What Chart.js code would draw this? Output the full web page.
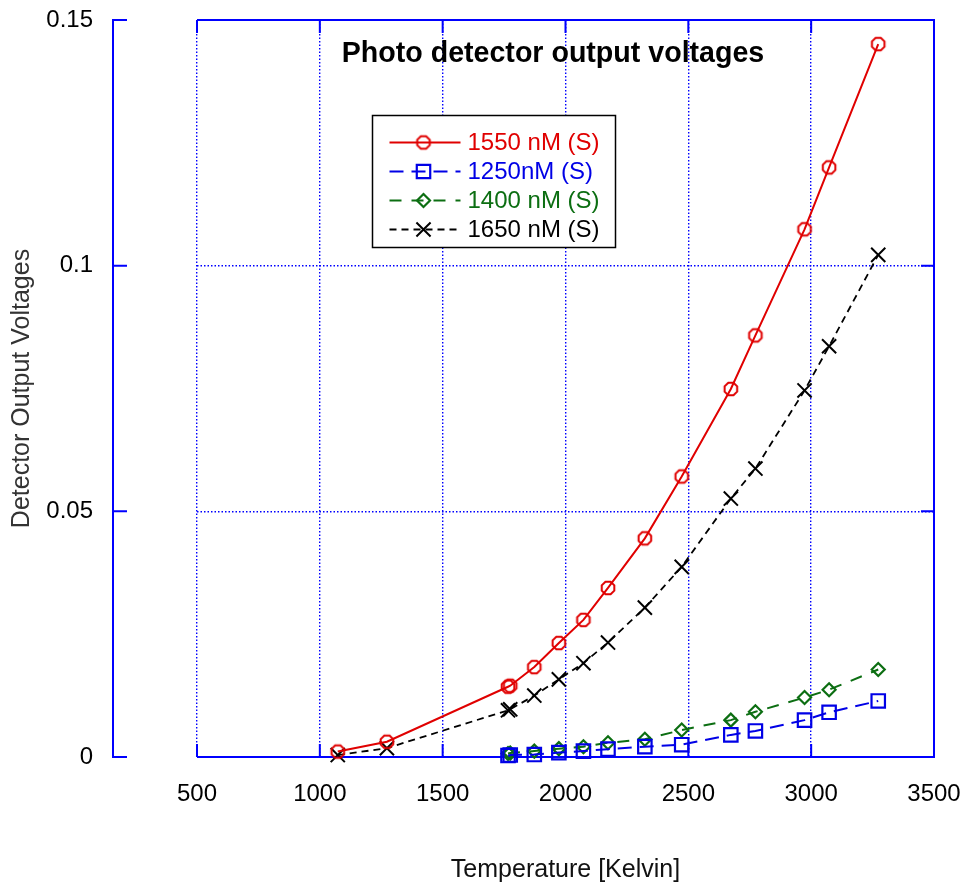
<!DOCTYPE html>
<html>
<head>
<meta charset="utf-8">
<title>Photo detector output voltages</title>
<script src="https://cdn.jsdelivr.net/npm/chart.js@4.4.1/dist/chart.umd.min.js"></script>
<style>
  html, body { margin: 0; padding: 0; background: #fff; }
  #wrap { width: 963px; height: 885px; }
</style>
</head>
<body>
<div id="wrap"><canvas id="chart" width="963" height="885"></canvas></div>
<script>
// temperaturas (Kelvin)
const tempsAll = [1073, 1273, 1766, 1775, 1873, 1973, 2073, 2173, 2323, 2473, 2673, 2773, 2973, 3073, 3273];
const tempsHigh = [1766, 1775, 1873, 1973, 2073, 2173, 2323, 2473, 2673, 2773, 2973, 3073, 3273];

// voltajes de salida del detector
const v1550 = [0.0011, 0.0031, 0.0143, 0.0145, 0.0183, 0.0232, 0.0279, 0.0344, 0.0445, 0.0571, 0.0749, 0.0858, 0.1074, 0.1200, 0.1451];
const v1250 = [0.0003, 0.0004, 0.0005, 0.0009, 0.0012, 0.0016, 0.0021, 0.0025, 0.0045, 0.0053, 0.0075, 0.0091, 0.0114];
const v1400 = [0.0007, 0.0008, 0.0012, 0.0017, 0.0021, 0.0029, 0.0036, 0.0055, 0.0075, 0.0092, 0.0121, 0.0137, 0.0178];
const v1650 = [0.0004, 0.0018, 0.0095, 0.0097, 0.0125, 0.0158, 0.0191, 0.0233, 0.0304, 0.0387, 0.0526, 0.0587, 0.0746, 0.0836, 0.1022];

const seriesNames = ['1550 nM (S)', '1250nM (S)', '1400 nM (S)', '1650 nM (S)'];
const xTicks = [500, 1000, 1500, 2000, 2500, 3000, 3500];
const yTicks = [0, 0.05, 0.1, 0.15];

const FONT = '"Liberation Sans", Arial, Helvetica, sans-serif';
const AXIS_BLUE = '#0000ff';

function toPoints(xs, ys) {
    return xs.map((x, i) => ({ x: x, y: ys[i] }));
}

// octagono hueco para la serie roja
function makeOctagon(color) {
    const c = document.createElement('canvas');
    c.width = 18; c.height = 18;
    const g = c.getContext('2d');
    g.strokeStyle = color;
    g.lineWidth = 2;
    g.beginPath();
    for (let i = 0; i < 8; i++) {
        const a = Math.PI / 8 + i * Math.PI / 4;
        const px = 9 + 6.8 * Math.cos(a);
        const py = 9 + 6.8 * Math.sin(a);
        if (i === 0) g.moveTo(px, py); else g.lineTo(px, py);
    }
    g.closePath();
    g.stroke();
    return c;
}

const redOct = makeOctagon('#e00000');

const datasets = [
    {
        label: seriesNames[0],
        data: toPoints(tempsAll, v1550),
        borderColor: '#e00000',
        borderWidth: 2,
        pointStyle: redOct,
        pointRadius: 7,
        pointBorderColor: '#e00000',
        pointBackgroundColor: 'rgba(0,0,0,0)'
    },
    {
        label: seriesNames[1],
        data: toPoints(tempsHigh, v1250),
        borderColor: '#0000e6',
        borderWidth: 2,
        borderDash: [14, 8],
        pointStyle: 'rect',
        pointRadius: 9.5,
        pointBorderWidth: 2.2,
        pointBorderColor: '#0000e6',
        pointBackgroundColor: 'rgba(0,0,0,0)'
    },
    {
        label: seriesNames[2],
        data: toPoints(tempsHigh, v1400),
        borderColor: '#0c6e12',
        borderWidth: 2,
        borderDash: [12, 10],
        pointStyle: 'rectRot',
        pointRadius: 6.5,
        pointBorderWidth: 2.2,
        pointBorderColor: '#0c6e12',
        pointBackgroundColor: 'rgba(0,0,0,0)'
    },
    {
        label: seriesNames[3],
        data: toPoints(tempsAll, v1650),
        borderColor: '#000000',
        borderWidth: 1.8,
        borderDash: [7, 5],
        pointStyle: 'crossRot',
        pointRadius: 10,
        pointBorderWidth: 2,
        pointBorderColor: '#000000',
        pointBackgroundColor: 'rgba(0,0,0,0)'
    }
];

// marco: eje y separado, bordes sólidos y marcas de escala
const framePlugin = {
    id: 'frame',
    beforeDatasetsDraw(chart) {
        const { ctx, chartArea: a, scales } = chart;
        const x = scales.x, y = scales.y;
        const tick = 13;
        ctx.save();
        ctx.strokeStyle = AXIS_BLUE;
        ctx.lineWidth = 2;
        ctx.setLineDash([]);
        ctx.beginPath();
        // top, right, bottom
        ctx.moveTo(a.left, a.top); ctx.lineTo(a.right, a.top);
        ctx.moveTo(a.right, a.top - 1); ctx.lineTo(a.right, a.bottom + 1);
        ctx.moveTo(a.left, a.bottom); ctx.lineTo(a.right, a.bottom);
        // eje y desplazado
        const ax = a.left - 84;
        ctx.moveTo(ax, a.top - 1); ctx.lineTo(ax, a.bottom + 1);
        yTicks.forEach(v => {
            const py = y.getPixelForValue(v);
            ctx.moveTo(ax, py); ctx.lineTo(ax + 14, py);
            ctx.moveTo(a.right, py); ctx.lineTo(a.right - tick, py);
        });
        xTicks.forEach(v => {
            const px = x.getPixelForValue(v);
            ctx.moveTo(px, a.bottom); ctx.lineTo(px, a.bottom - tick);
            ctx.moveTo(px, a.top); ctx.lineTo(px, a.top + tick);
        });
        ctx.stroke();
        ctx.restore();
    },
    afterDraw(chart) {
        const { ctx, chartArea: a } = chart;
        ctx.save();
        // titulo dentro del area
        ctx.fillStyle = '#000';
        ctx.font = 'bold 28.6px ' + FONT;
        ctx.textAlign = 'center';
        ctx.textBaseline = 'middle';
        ctx.fillText('Photo detector output voltages', a.left + 356, a.top + 34);

        // leyenda
        const bx = a.left + 175.5, by = a.top + 95.5, bw = 243, bh = 132;
        ctx.fillStyle = '#fff';
        ctx.fillRect(bx, by, bw, bh);
        ctx.strokeStyle = '#000';
        ctx.lineWidth = 1.5;
        ctx.setLineDash([]);
        ctx.strokeRect(bx, by, bw, bh);

        ctx.font = '24px ' + FONT;
        ctx.textAlign = 'left';
        chart.data.datasets.forEach((ds, i) => {
            const ry = by + 27 + i * 29;
            const x0 = bx + 17, x1 = bx + 88, mx = bx + 51;
            ctx.strokeStyle = ds.borderColor;
            ctx.lineWidth = ds.borderWidth;
            ctx.setLineDash(ds.borderDash || []);
            ctx.beginPath();
            ctx.moveTo(x0, ry); ctx.lineTo(x1, ry);
            ctx.stroke();
            ctx.setLineDash([]);
            ctx.lineWidth = ds.pointBorderWidth || 2;
            ctx.strokeStyle = ds.pointBorderColor;
            ctx.fillStyle = 'rgba(0,0,0,0)';
            Chart.helpers.drawPoint(ctx, {
                pointStyle: ds.pointStyle,
                radius: ds.pointRadius,
                borderWidth: ds.pointBorderWidth || 2,
                rotation: 0
            }, mx, ry);
            ctx.fillStyle = ds.borderColor;
            ctx.fillText(ds.label, bx + 95, ry + 1);
        });
        ctx.restore();
    }
};

const chart = new Chart(document.getElementById('chart').getContext('2d'), {
    type: 'line',
    data: { datasets: datasets },
    options: {
        responsive: false,
        animation: false,
        devicePixelRatio: 1,
        layout: { padding: { left: 0, right: 29, top: 20, bottom: 0 } },
        plugins: {
            legend: { display: false },
            tooltip: { enabled: false },
            title: { display: false }
        },
        elements: { line: { tension: 0 } },
        datasets: { line: { clip: false } },
        scales: {
            x: {
                type: 'linear',
                min: 500,
                max: 3500,
                afterFit: (s) => { s.height = 128; s.paddingLeft = 0; s.paddingRight = 0; },
                afterBuildTicks: (s) => { s.ticks = xTicks.map(v => ({ value: v })); },
                ticks: {
                    padding: 23,
                    color: '#000',
                    font: { family: FONT, size: 24 },
                    callback: (v) => String(v)
                },
                grid: {
                    color: AXIS_BLUE,
                    lineWidth: 1.4,
                    drawTicks: false
                },
                border: { display: false, dash: [1.5, 2] },
                title: {
                    display: true,
                    text: 'Temperature [Kelvin]',
                    color: '#111',
                    font: { family: FONT, size: 25 },
                    padding: { top: 0, bottom: 0 }
                }
            },
            y: {
                type: 'linear',
                min: 0,
                max: 0.15,
                afterFit: (s) => { s.width = 197; s.paddingTop = 0; s.paddingBottom = 0; },
                afterBuildTicks: (s) => { s.ticks = yTicks.map(v => ({ value: v })); },
                ticks: {
                    padding: 104,
                    color: '#000',
                    font: { family: FONT, size: 24 },
                    callback: (v) => String(v)
                },
                grid: {
                    color: AXIS_BLUE,
                    lineWidth: 1.4,
                    drawTicks: false
                },
                border: { display: false, dash: [1.5, 2] },
                title: {
                    display: true,
                    text: 'Detector Output Voltages',
                    color: '#333',
                    font: { family: FONT, size: 25 },
                    padding: { top: 7, bottom: 0 }
                }
            }
        }
    },
    plugins: [framePlugin]
});
</script>
</body>
</html>
